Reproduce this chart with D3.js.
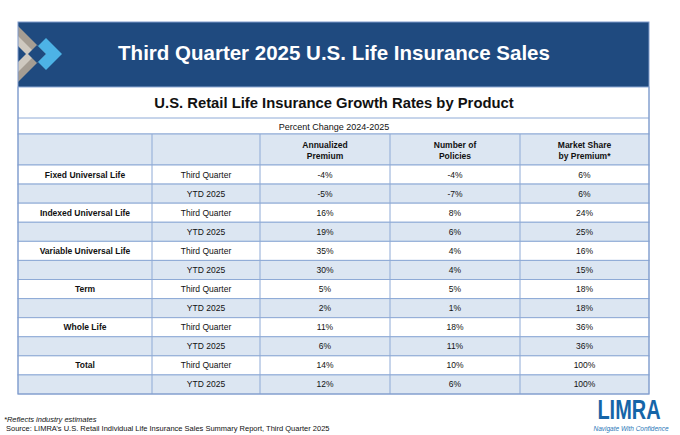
<!DOCTYPE html>
<html><head><meta charset="utf-8">
<script src="https://cdn.jsdelivr.net/npm/d3@7"></script>
<style>body{margin:0;background:#fff}svg{font-family:"Liberation Sans",Arial,sans-serif}</style>
</head><body><svg id="c" width="680" height="435"></svg>
<script>
const products = ["Fixed Universal Life", "Indexed Universal Life", "Variable Universal Life", "Term", "Whole Life", "Total"];
const periods = ["Third Quarter", "YTD 2025"];
const premium = ["-4%", "-5%", "16%", "19%", "35%", "30%", "5%", "2%", "11%", "6%", "14%", "12%"];
const policies = ["-4%", "-7%", "8%", "6%", "4%", "4%", "5%", "1%", "18%", "11%", "10%", "6%"];
const share = ["6%", "6%", "24%", "25%", "16%", "15%", "18%", "18%", "36%", "36%", "100%", "100%"];
const headers = [["", ""], ["", ""], ["Annualized", "Premium"], ["Number of", "Policies"], ["Market Share", "by Premium*"]];

const svg = d3.select("#c");
const colX = [18, 152, 260, 390, 520, 649];
const L = 18, R = 649, line = "#8eaad6", band = "#dce6f2";
const rows = d3.range(12);
const y = d3.scaleBand().domain(rows).range([165, 394]);

// banner
svg.append("rect").attr("x", L).attr("y", 22).attr("width", R - L).attr("height", 65).attr("fill", "#1f4a7f");
svg.append("text").attr("x", 334).attr("y", 60).attr("text-anchor", "middle").attr("fill", "#fff")
  .attr("font-size", 20.5).attr("font-weight", "bold").text("Third Quarter 2025 U.S. Life Insurance Sales");
// logo mark
const g = svg.append("g").attr("transform", "translate(18,22)");
g.append("path").attr("d", "M0,4 L28,32 L0,60 Z").attr("fill", "#a59d93");
g.append("path").attr("d", "M0,14 L18,32 L0,50 Z").attr("fill", "#cfc9c0");
g.append("path").attr("d", "M0,24 L8,32 L0,40 Z").attr("fill", "#1f4a7f");
g.append("path").attr("d", "M19,23 L28,32 L19,41 L10,32 Z").attr("fill", "#1f4a7f");
g.append("path").attr("d", "M28,16 L44,32 L28,48 L20,40 L28,32 L20,24 Z").attr("fill", "#4db3e6");

// subtitle rows
svg.append("rect").attr("x", L).attr("y", 87).attr("width", R - L).attr("height", 47).attr("fill", "#fff").attr("stroke", line);
svg.append("line").attr("x1", L).attr("x2", R).attr("y1", 118).attr("y2", 118).attr("stroke", line);
svg.append("text").attr("x", 334).attr("y", 108).attr("text-anchor", "middle").attr("font-size", 14.8).attr("font-weight", "bold").attr("fill", "#111")
  .text("U.S. Retail Life Insurance Growth Rates by Product");
svg.append("text").attr("x", 334).attr("y", 130).attr("text-anchor", "middle").attr("font-size", 9).attr("fill", "#111").text("Percent Change 2024-2025");

// header row
svg.append("rect").attr("x", L).attr("y", 134).attr("width", R - L).attr("height", 31).attr("fill", band).attr("stroke", line);
headers.forEach((h, i) => {
  const cx = (colX[i] + colX[i + 1]) / 2;
  h.forEach((t, k) => svg.append("text").attr("x", cx).attr("y", 148 + k * 11).attr("text-anchor", "middle")
    .attr("font-size", 8.5).attr("font-weight", "bold").attr("fill", "#111").text(t));
});

// data rows
rows.forEach(r => {
  const y0 = y(r), cy = y0 + y.bandwidth() / 2 + 3;
  svg.append("rect").attr("x", L).attr("y", y0).attr("width", R - L).attr("height", y.bandwidth())
    .attr("fill", r % 2 ? band : "#fff").attr("stroke", line);
  const cells = [r % 2 ? "" : products[r / 2], periods[r % 2], premium[r], policies[r], share[r]];
  cells.forEach((t, i) => svg.append("text").attr("x", (colX[i] + colX[i + 1]) / 2).attr("y", cy)
    .attr("text-anchor", "middle").attr("font-size", 8.5).attr("font-weight", i === 0 ? "bold" : null)
    .attr("fill", "#111").text(t));
});
colX.slice(1, -1).forEach(x => svg.append("line").attr("x1", x).attr("x2", x).attr("y1", 134).attr("y2", 394).attr("stroke", line));
svg.append("rect").attr("x", L).attr("y", 22).attr("width", R - L).attr("height", 372).attr("fill", "none").attr("stroke", "#7f9acb");

// footnotes
svg.append("text").attr("x", 4).attr("y", 422).attr("font-size", 7.5).attr("font-style", "italic").attr("fill", "#111").text("*Reflects industry estimates");
svg.append("text").attr("x", 6).attr("y", 431).attr("font-size", 7.5).attr("fill", "#111").text("Source: LIMRA\u2019s U.S. Retail Individual Life Insurance Sales Summary Report, Third Quarter 2025");
// LIMRA logo
svg.append("text").attr("x", 629).attr("y", 419).attr("text-anchor", "middle").attr("font-size", 21).attr("font-weight", "bold")
  .attr("fill", "#1565a8").attr("transform", "translate(629,419) scale(0.95,1.3) translate(-629,-419)").text("LIMRA");
svg.append("text").attr("x", 631).attr("y", 431).attr("text-anchor", "middle").attr("font-size", 6.5).attr("font-style", "italic")
  .attr("fill", "#2a78b8").text("Navigate With Confidence");
</script></body></html>
